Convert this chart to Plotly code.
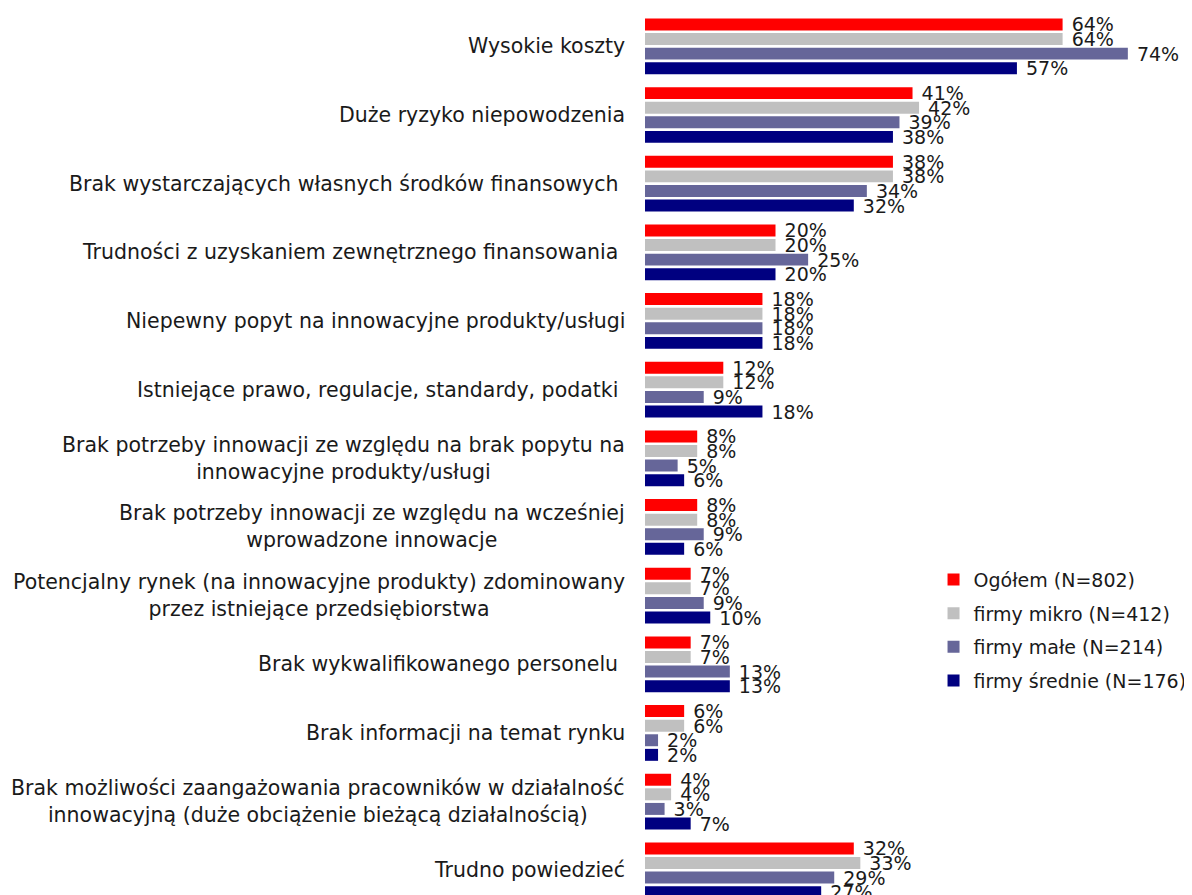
import plotly.graph_objects as go

categories = [
    "Wysokie koszty",
    "Duże ryzyko niepowodzenia",
    "Brak wystarczających własnych środków finansowych\u00a0",
    "Trudności z uzyskaniem zewnętrznego finansowania\u00a0",
    "Niepewny popyt na innowacyjne produkty/usługi",
    "Istniejące prawo, regulacje, standardy, podatki\u00a0",
    "Brak potrzeby innowacji ze względu na brak popytu na<br>innowacyjne produkty/usługi",
    "Brak potrzeby innowacji ze względu na wcześniej<br>wprowadzone innowacje",
    "Potencjalny rynek (na innowacyjne produkty) zdominowany<br>przez istniejące przedsiębiorstwa",
    "Brak wykwalifikowanego personelu\u00a0",
    "Brak informacji na temat rynku",
    "Brak możliwości zaangażowania pracowników w działalność<br>innowacyjną (duże obciążenie bieżącą działalnością)",
    "Trudno powiedzieć",
]

series_names = ["Ogółem (N=802)", "firmy mikro (N=412)", "firmy małe (N=214)", "firmy średnie (N=176)"]
ogolem = [64, 41, 38, 20, 18, 12, 8, 8, 7, 7, 6, 4, 32]
mikro = [64, 42, 38, 20, 18, 12, 8, 8, 7, 7, 6, 4, 33]
male = [74, 39, 34, 25, 18, 9, 5, 9, 9, 13, 2, 3, 29]
srednie = [57, 38, 32, 20, 18, 18, 6, 6, 10, 13, 2, 7, 27]
colors = ["#FF0000", "#C0C0C0", "#666699", "#000080"]

FONT = "DejaVu Sans"
ids = list(range(len(categories)))

fig = go.Figure()
for k, (name, vals, col) in enumerate(zip(series_names, [ogolem, mikro, male, srednie], colors)):
    fig.add_trace(go.Bar(
        y=ids, x=vals, name=name, orientation="h", legendgroup=f"g{k}",
        marker=dict(color=col, line=dict(width=0)),
        text=[f"\u00a0{v}%" for v in vals], textposition="outside",
        constraintext="none", cliponaxis=False,
        textfont=dict(family=FONT, size=19, color="#1a1a1a"),
    ))

annotations = []
for i, c in enumerate(categories):
    annotations.append(dict(
        x=0, xref="paper", y=i, yref="y", text=c, showarrow=False,
        xanchor="right", yanchor="middle", xshift=-18, align="center",
        font=dict(family=FONT, size=20.5, color="#1a1a1a"),
    ))

fig.update_layout(
    width=1184, height=887,
    margin=dict(l=637, r=25, t=4, b=0),
    paper_bgcolor="white", plot_bgcolor="white",
    barmode="group", bargap=0.15, bargroupgap=0.18,
    xaxis=dict(range=[0, 80], visible=False),
    yaxis=dict(range=[len(categories) - 0.64, -0.5], showticklabels=False,
               showgrid=False, zeroline=False, showline=False, ticks=""),
    annotations=annotations,
    showlegend=True,
    legend=dict(x=1.047, y=0.30, xanchor="right", yanchor="middle",
                traceorder="grouped", tracegroupgap=6, bgcolor="rgba(0,0,0,0)",
                font=dict(family=FONT, size=19, color="#1a1a1a")),
)

fig.write_html("out.html")
